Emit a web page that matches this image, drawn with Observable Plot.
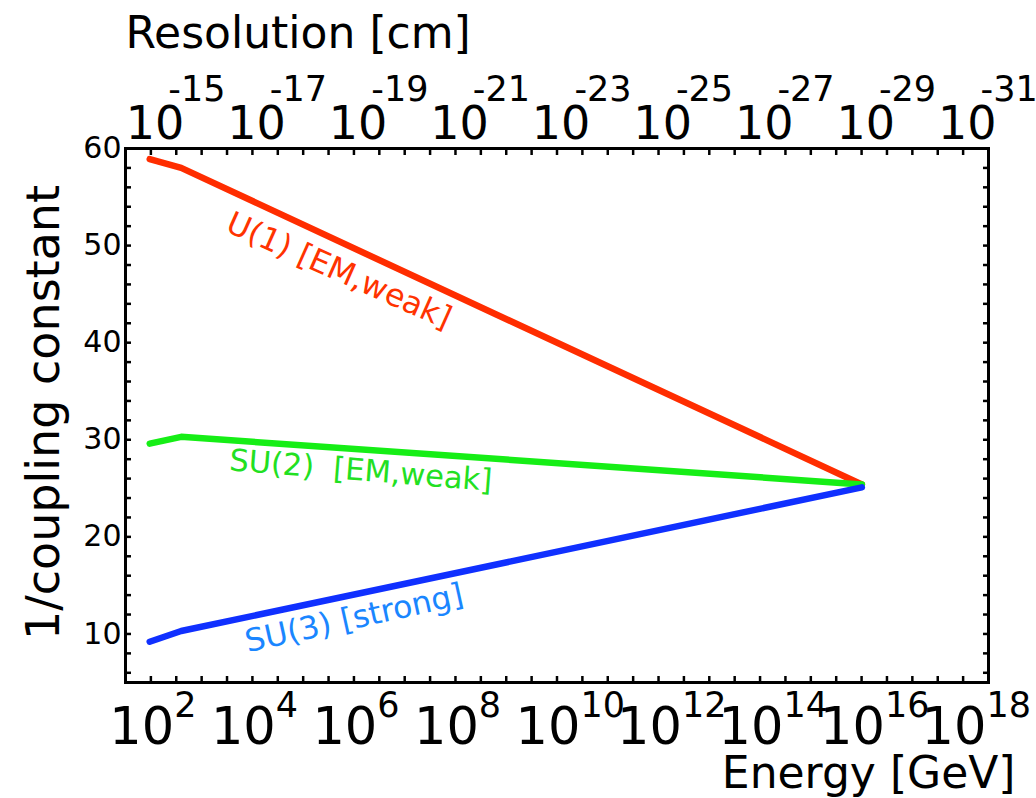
<!DOCTYPE html>
<html>
<head>
<meta charset="utf-8">
<script src="https://cdn.jsdelivr.net/npm/d3@7"></script>
<script src="https://cdn.jsdelivr.net/npm/@observablehq/plot@0.6"></script>
<style>
  html, body { margin: 0; padding: 0; background: #fff; }
  #chart { width: 1036px; height: 798px; }
</style>
</head>
<body>
<div id="chart"></div>
<script>
// ---- data ----
const energy = [30, 125, 3.2e15];            // GeV
const u1Values  = [58.9, 58.0, 25.4];         // U(1)  1/alpha
const su2Values = [29.6, 30.3, 25.4];         // SU(2) 1/alpha
const su3Values = [9.2, 10.3, 25.1];          // SU(3) 1/alpha

const seriesNames  = ["U(1) [EM,weak]", "SU(2)  [EM,weak]", "SU(3) [strong]"];
const lineColors   = ["#ff2d00", "#16ee16", "#1030ff"];
const textColors   = ["#ff3300", "#22e022", "#1a86ff"];
const labelEnergy  = [1.6e5, 4.3e5, 3.2e5];
const labelValue   = [47.4, 26.8, 11.6];
const labelAngle   = [24, 4.5, -12.5];
const labelSize    = [31.5, 30.5, 31.5];

const energyTickExps = [2, 4, 6, 8, 10, 12, 14, 16, 18];
const resTickExps    = [-15, -17, -19, -21, -23, -25, -27, -29, -31];
const yTickLabels    = [10, 20, 30, 40, 50, 60];
const resolutionTimesEnergy = 1e-13;          // cm·GeV, links the two x axes

// ---- build ----
const valuesBySeries = [u1Values, su2Values, su3Values];
const xMinorTicks = d3.range(3, 36).map(k => 10 ** (k / 2));
const yMinorTicks = d3.range(6, 61, 2);

const lineMarks = valuesBySeries.map((vals, i) =>
  Plot.line(energy.map((e, j) => ({E: e, v: vals[j]})), {
    x: "E", y: "v", stroke: lineColors[i], strokeWidth: 6.5,
    strokeLinecap: "round", strokeLinejoin: "round"
  })
);

const labelMarks = seriesNames.map((name, i) =>
  Plot.text([name], {
    x: () => labelEnergy[i], y: () => labelValue[i], text: d => d,
    rotate: labelAngle[i], fill: textColors[i], fontSize: labelSize[i],
    textAnchor: "middle", lineAnchor: "middle"
  })
);

const tickStyle = {tickFormat: () => "", label: null, strokeWidth: 2.5, tickSize: -6};

const chart = Plot.plot({
  width: 1036, height: 798,
  marginLeft: 125, marginRight: 48, marginTop: 148, marginBottom: 116,
  x: {type: "log", domain: [10, 1e18]},
  y: {domain: [5, 60]},
  style: {fontFamily: "DejaVu Sans", background: "white", color: "black", overflow: "visible"},
  marks: [
    ...lineMarks,
    ...labelMarks,
    Plot.axisX(xMinorTicks, {anchor: "bottom", ...tickStyle}),
    Plot.axisX(xMinorTicks, {anchor: "top", ...tickStyle}),
    Plot.axisY(yMinorTicks, {anchor: "left", ...tickStyle}),
    Plot.axisY(yMinorTicks, {anchor: "right", ...tickStyle}),
    Plot.axisY(yTickLabels, {anchor: "left", tickSize: 0, tickPadding: 4, fontSize: 30, label: null}),
    Plot.frame({stroke: "black", strokeWidth: 3}),
    // bottom energy labels 10^n
    Plot.text(energyTickExps, {x: d => 10 ** d, text: () => "10", frameAnchor: "bottom",
      dy: 61, dx: -2, textAnchor: "end", lineAnchor: "bottom", fontSize: 51, ariaLabel: "narrow-label"}),
    Plot.text(energyTickExps, {x: d => 10 ** d, text: d => String(d), frameAnchor: "bottom",
      dy: 34, dx: -2, textAnchor: "start", lineAnchor: "bottom", fontSize: 35, ariaLabel: "narrow-label"}),
    // top resolution labels 10^-n
    Plot.text(resTickExps, {x: d => resolutionTimesEnergy / 10 ** d, text: () => "10", frameAnchor: "top",
      dy: -10, dx: 8, textAnchor: "end", lineAnchor: "bottom", fontSize: 46, ariaLabel: "narrow-label"}),
    Plot.text(resTickExps, {x: d => resolutionTimesEnergy / 10 ** d, text: d => "-" + Math.abs(d), frameAnchor: "top",
      dy: -48, dx: -8, textAnchor: "start", lineAnchor: "bottom", fontSize: 35, ariaLabel: "narrow-label"}),
    // titles
    Plot.text(["Resolution [cm]"], {frameAnchor: "top-left", text: d => d, dx: 0, dy: -101,
      textAnchor: "start", lineAnchor: "bottom", fontSize: 44}),
    Plot.text(["Energy [GeV]"], {frameAnchor: "bottom-right", text: d => d, dx: 27, dy: 105,
      textAnchor: "end", lineAnchor: "bottom", fontSize: 44}),
    Plot.text(["1/coupling constant"], {frameAnchor: "left", text: d => d, dx: -67, dy: -3,
      rotate: -90, textAnchor: "middle", lineAnchor: "bottom", fontSize: 46})
  ]
});

// the reference's tick-label digits are narrower than DejaVu's: compress them horizontally
chart.querySelectorAll('g[aria-label="narrow-label"] text').forEach(t => {
  const tr = t.getAttribute("transform");
  if (tr) {
    t.setAttribute("transform", tr + " scale(0.86,1)");
  } else {
    const x = +(t.getAttribute("x") || 0), y = +(t.getAttribute("y") || 0);
    t.removeAttribute("x"); t.removeAttribute("y");
    t.setAttribute("transform", `translate(${x},${y}) scale(0.86,1)`);
  }
});
document.getElementById("chart").append(chart);
</script>
</body>
</html>
